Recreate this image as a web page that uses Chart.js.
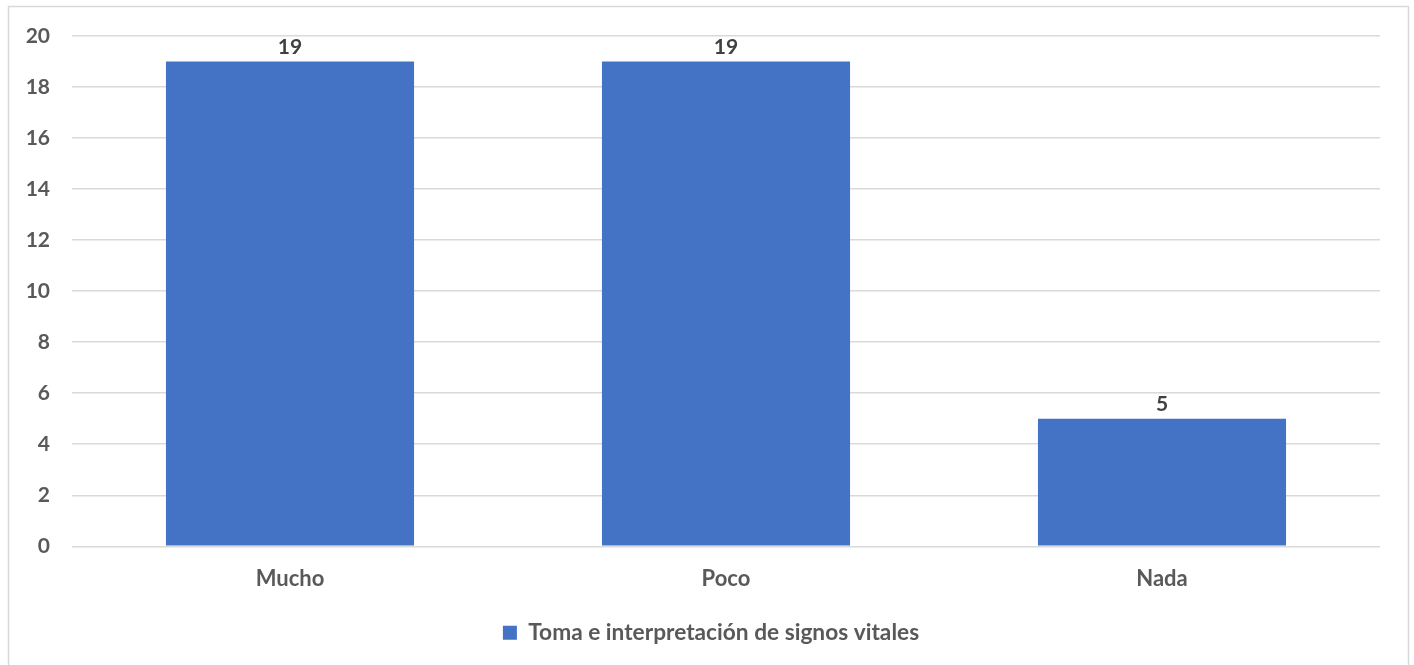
<!DOCTYPE html>
<html>
<head>
<meta charset="utf-8">
<script src="https://cdn.jsdelivr.net/npm/chart.js@4"></script>
<style>
  html, body { margin: 0; padding: 0; background: #ffffff; }
  #wrap { width: 1414px; height: 665px; position: relative; }
</style>
</head>
<body>
<div id="wrap"><canvas id="c" width="1414" height="665"></canvas></div>
<script>
const categories = ['Mucho', 'Poco', 'Nada'];
const seriesName = 'Toma e interpretación de signos vitales';
const values = [19, 19, 5];
const yTicks = [0, 2, 4, 6, 8, 10, 12, 14, 16, 18, 20];

const FONT = 'Lato, "Open Sans", "Liberation Sans", sans-serif';
const BAR = '#4472c4';

// Outer frame of the chart box
const framePlugin = {
  id: 'frame',
  beforeDraw(chart) {
    const ctx = chart.ctx;
    ctx.save();
    ctx.fillStyle = '#ffffff';
    ctx.fillRect(0, 0, chart.width, chart.height);
    ctx.strokeStyle = '#d9d9d9';
    ctx.lineWidth = 1.5;
    ctx.strokeRect(8.5, 6.5, 1400, 670);
    ctx.restore();
  }
};

// Centre the legend on the whole box rather than on the padded area
const legendShift = {
  id: 'legendShift',
  afterLayout(chart) {
    if (chart.legend) {
      chart.legend.left += 21;
      chart.legend.right += 21;
    }
  }
};

// Value labels above each bar
const valueLabels = {
  id: 'valueLabels',
  afterDatasetsDraw(chart) {
    const ctx = chart.ctx;
    ctx.save();
    ctx.font = 'bold 21px ' + FONT;
    ctx.fillStyle = '#404040';
    ctx.textAlign = 'center';
    ctx.textBaseline = 'alphabetic';
    chart.getDatasetMeta(0).data.forEach((bar, i) => {
      ctx.fillText(String(values[i]), bar.x, bar.y - 8);
    });
    ctx.restore();
  }
};

new Chart(document.getElementById('c'), {
  type: 'bar',
  data: {
    labels: categories,
    datasets: [{
      label: seriesName,
      data: values,
      backgroundColor: BAR,
      borderWidth: 0,
      categoryPercentage: 1,
      barPercentage: 0.569
    }]
  },
  options: {
    responsive: false,
    animation: false,
    layout: { padding: { left: 0, right: 34, top: 36, bottom: 11 } },
    scales: {
      x: {
        grid: { display: false, drawTicks: false },
        border: { display: false },
        ticks: { color: '#595959', font: { family: FONT, size: 22, weight: 'bold' }, padding: 19 },
        afterFit(scale) { scale.height = 65; }
      },
      y: {
        min: 0, max: 20,
        afterBuildTicks(scale) { scale.ticks = yTicks.map(v => ({ value: v })); },
        grid: { color: '#d9d9d9', lineWidth: 1.5, drawTicks: false },
        border: { display: false },
        ticks: { color: '#595959', font: { family: FONT, size: 21, weight: 'bold' }, padding: 22 },
        afterFit(scale) { scale.width = 72; }
      }
    },
    plugins: {
      legend: {
        position: 'bottom',
        labels: {
          boxWidth: 14, boxHeight: 14,
          color: '#595959',
          font: { family: FONT, size: 22.7, weight: 'bold' },
          padding: 10
        }
      },
      tooltip: { enabled: false }
    }
  },
  plugins: [framePlugin, legendShift, valueLabels]
});
</script>
</body>
</html>
